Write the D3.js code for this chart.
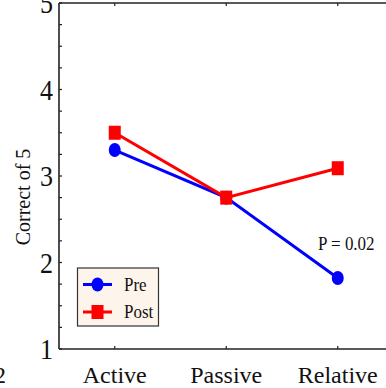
<!DOCTYPE html>
<html>
<head>
<meta charset="utf-8">
<script src="https://cdn.jsdelivr.net/npm/d3@7"></script>
<style>
  body { margin: 0; background: #fff; }
  text { font-family: "Liberation Serif", "Times New Roman", serif; fill: #111; }
</style>
</head>
<body>
<script>
// data
var categories = ["Active", "Passive", "Relative"]
var preValues = [3.3, 2.75, 1.82]
var postValues = [3.5, 2.75, 3.09]
var yTicks = [1, 2, 3, 4, 5]
var note = "P = 0.02"

var width = 386, height = 388
var plotLeft = 59, plotTop = 3, plotBottom = 349

var svg = d3.select("body").append("svg")
  .attr("width", width)
  .attr("height", height)

var x = d3.scalePoint().domain(categories).range([plotLeft, plotLeft + 3 * 111.5]).padding(0.5)
var y = d3.scaleLinear().domain([1, 5]).range([plotBottom, plotTop])

// frame
svg.append("line").attr("x1", plotLeft).attr("x2", width + 10).attr("y1", plotTop).attr("y2", plotTop)
  .attr("stroke", "#222").attr("stroke-width", 1.6)

// left axis with inward ticks, minor every 0.25
var yAxis = svg.append("g").attr("transform", "translate(" + plotLeft + ",0)")
yAxis.append("line").attr("y1", plotTop).attr("y2", plotBottom).attr("stroke", "#222").attr("stroke-width", 1.6)
yAxis.selectAll(".minor").data(d3.range(1, 5.001, 0.25)).enter().append("line")
  .attr("x1", 0).attr("x2", 3).attr("y1", function(d) { return y(d) }).attr("y2", function(d) { return y(d) })
  .attr("stroke", "#222").attr("stroke-width", 1.2)
yAxis.selectAll("text").data(yTicks).enter().append("text")
  .attr("transform", function(d) { return "translate(-6," + (y(d) + 10) + ") scale(1,1.12)" })
  .attr("text-anchor", "end")
  .style("font-size", "26px")
  .text(function(d) { return d })

// bottom axis
var xAxis = svg.append("g")
xAxis.append("line").attr("x1", plotLeft).attr("x2", width + 10).attr("y1", plotBottom).attr("y2", plotBottom)
  .attr("stroke", "#222").attr("stroke-width", 1.6)
xAxis.selectAll(".tk").data(categories).enter().append("line")
  .attr("x1", function(d) { return x(d) }).attr("x2", function(d) { return x(d) })
  .attr("y1", plotBottom).attr("y2", plotBottom - 3)
  .attr("stroke", "#222").attr("stroke-width", 1.2)
xAxis.selectAll("text").data(categories).enter().append("text")
  .attr("x", function(d) { return x(d) }).attr("y", 383)
  .attr("text-anchor", "middle")
  .style("font-size", "24px")
  .text(function(d) { return d })

// top ticks
svg.selectAll(".ttk").data(categories).enter().append("line")
  .attr("x1", function(d) { return x(d) }).attr("x2", function(d) { return x(d) })
  .attr("y1", plotTop).attr("y2", plotTop + 3)
  .attr("stroke", "#222").attr("stroke-width", 1.2)

// y label
svg.append("text")
  .attr("transform", "translate(30,197) rotate(-90)")
  .attr("text-anchor", "middle")
  .style("font-size", "20px")
  .text("Correct of 5")

// stray number from the neighbouring figure
svg.append("text").attr("x", 6).attr("y", 383).attr("text-anchor", "end")
  .style("font-size", "24px").text("2")

var line = d3.line().x(function(d, i) { return x(categories[i]) }).y(function(d) { return y(d) })

function drawSeries(vals, color, shape) {
  svg.append("path").datum(vals).attr("d", line)
    .attr("fill", "none").attr("stroke", color).attr("stroke-width", 3)
  vals.forEach(function(v, i) {
    var cx = x(categories[i]), cy = y(v)
    if (shape == "circle") {
      svg.append("ellipse").attr("cx", cx).attr("cy", cy).attr("rx", 6).attr("ry", 7).attr("fill", color)
    } else {
      svg.append("rect").attr("x", cx - 6).attr("y", cy - 7).attr("width", 12).attr("height", 14).attr("fill", color)
    }
  })
}
drawSeries(preValues, "#0000ff", "circle")
drawSeries(postValues, "#ff0000", "square")

svg.append("text").attr("transform", "translate(318,250) scale(1,1.15)")
  .style("font-size", "17px").text(note)

// legend
var lg = svg.append("g")
lg.append("rect").attr("x", 77.5).attr("y", 268).attr("width", 81).attr("height", 58)
  .attr("fill", "#fdf4ec").attr("stroke", "#333").attr("stroke-width", 1.2)
var items = [{ name: "Pre", color: "#0000ff", shape: "circle" }, { name: "Post", color: "#ff0000", shape: "square" }]
items.forEach(function(it, i) {
  var ly = 284.5 + i * 27.5
  lg.append("line").attr("x1", 83).attr("x2", 112).attr("y1", ly).attr("y2", ly)
    .attr("stroke", it.color).attr("stroke-width", 3)
  if (it.shape == "circle") {
    lg.append("ellipse").attr("cx", 97.5).attr("cy", ly).attr("rx", 6).attr("ry", 7).attr("fill", it.color)
  } else {
    lg.append("rect").attr("x", 91.5).attr("y", ly - 7).attr("width", 12).attr("height", 14).attr("fill", it.color)
  }
  lg.append("text").attr("transform", "translate(124," + (ly + 6) + ") scale(1,1.12)")
    .style("font-size", "17px").text(it.name)
})
</script>
</body>
</html>
